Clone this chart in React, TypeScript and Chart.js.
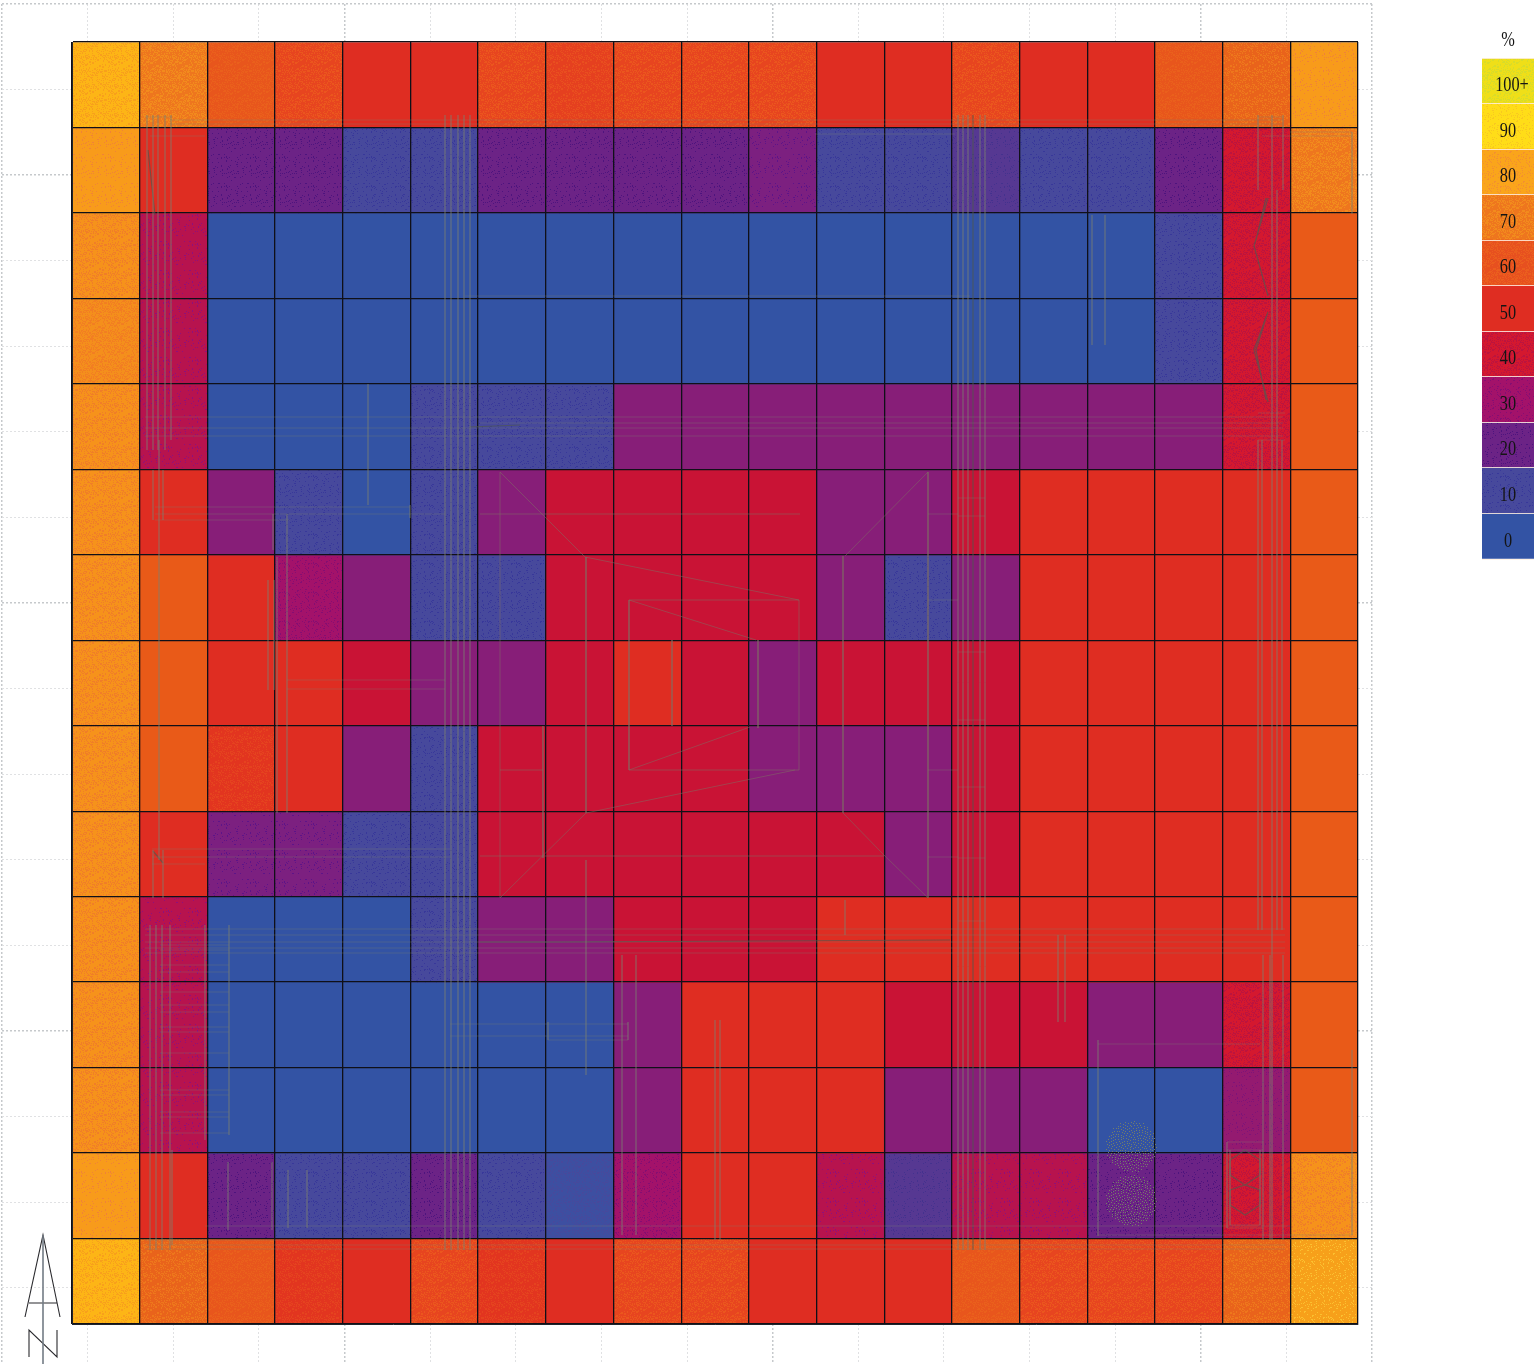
import React, { useEffect, useRef } from "react";
import { Chart, registerables } from "chart.js";

Chart.register(...registerables);

// ---------- data: occupancy-like percentage per plan cell, row by row ----------
const columnLabels = ["A","B","C","D","E","F","G","H","I","J","K","L","M","N","O","P","Q","R","S"];
const row00 = [84,66,53,50,46,46,50,49,50,50,50,46,46,50,46,46,53,60,76];
const row01 = [76,46,16,16,8,8,16,16,16,16,19,8,8,12,8,8,16,42,66];
const row02 = [72,34,0,0,0,0,0,0,0,0,0,0,0,0,0,0,8,42,54];
const row03 = [70,34,0,0,0,0,0,0,0,0,0,0,0,0,0,0,8,42,54];
const row04 = [72,34,0,0,0,8,8,8,22,22,22,22,22,22,22,22,22,42,54];
const row05 = [72,46,22,8,0,8,22,38,38,38,38,22,22,38,46,46,46,46,54];
const row06 = [72,54,46,28,22,8,8,38,38,38,38,22,8,22,46,46,46,46,54];
const row07 = [72,54,46,46,38,22,22,38,46,38,22,38,38,38,46,46,46,46,54];
const row08 = [72,54,47,46,22,8,38,38,38,38,22,22,22,38,46,46,46,46,54];
const row09 = [72,46,19,19,8,8,38,38,38,38,38,38,22,38,46,46,46,46,54];
const row10 = [72,34,0,0,0,8,22,22,38,38,38,46,46,46,46,46,46,46,54];
const row11 = [72,34,0,0,0,0,0,0,22,46,46,46,38,38,38,22,22,42,54];
const row12 = [72,34,0,0,0,0,0,0,22,46,46,46,22,22,22,0,0,25,54];
const row13 = [76,46,16,8,8,16,8,4,28,46,46,34,12,34,34,16,16,42,72];
const row14 = [84,60,53,47,46,50,47,46,50,50,46,46,46,53,50,50,50,60,80];
const rows = [row00,row01,row02,row03,row04,row05,row06,row07,row08,row09,row10,row11,row12,row13,row14];

// colour key
const legendLabels = ["0","10","20","30","40","50","60","70","80","90","100+"];
const legendLevels = [0,8,16,28,42,46,51,66,77,90,100];
const legendTitle = "%";

// ---------- styles ----------
type Swatch = [string, string?, number?];
const palette: Record<number, Swatch> = {
  0: ["#3353A4"],
  4: ["#3D4FA1", "#47499C", 0.2],
  8: ["#47499C", "#38389A", 0.08],
  12: ["#563892", "#44328E", 0.07],
  16: ["#6C2386", "#4E147E", 0.07],
  19: ["#7C2080", "#5E1488", 0.05],
  22: ["#871E78"],
  25: ["#941A70", "#7E1478", 0.06],
  28: ["#A3126A", "#860E72", 0.1],
  34: ["#B7134E", "#90107A", 0.05],
  38: ["#C91335"],
  42: ["#D4182F", "#BC143E", 0.3],
  46: ["#DF2D22"],
  47: ["#E2351F", "#E5431F", 0.25],
  49: ["#E5401F", "#E94F1F", 0.25],
  50: ["#E7451F", "#EB561E", 0.3],
  51: ["#E7501F", "#EB5E1E", 0.35],
  53: ["#E8561C", "#EA601C", 0.3],
  54: ["#E95A18"],
  60: ["#E9631B", "#EE771C", 0.25],
  66: ["#EE761E", "#F28B1D", 0.35],
  70: ["#F48F1C", "#F27E22", 0.35],
  72: ["#F6921B", "#F07E28", 0.25],
  76: ["#F89B1B", "#F08238", 0.07],
  77: ["#FAA51B", "#F39030", 0.12],
  80: ["#F7A01A", "#FBC030", 0.1],
  84: ["#FDB516", "#F8A01C", 0.25],
  90: ["#FFDD18", "#F8C820", 0.12],
  100: ["#EFDF18", "#D8DC2A", 0.3],
};

// ---------- floor plan drawn over the cells, in page units ----------
const northArrowAxis = [[43, 1235], [43, 1364]];
const northArrowMarks = [
  [[25, 1317], [43, 1235], [60, 1317]],
  [[29, 1303], [57, 1303]],
  [[29, 1357], [29, 1330], [57, 1357], [57, 1330]],
];
const planHorizontalFaint = [
  [120,170,1283],[124,170,1283],[117,145,172],[117,1258,1283],[136,150,205],[136,1262,1352],[132,1290,1352],[134,815,955],[296,465,970],
  [417,145,1283],[423,480,1283],[428,145,1283],[436,145,1283],[413,1258,1285],[440,1258,1285],
  [929,145,1285],[935,145,1285],[942,145,1285],[948,145,1285],[953,145,1285],
  [1226,205,1290],[1235,1098,1352],[1245,145,1285],[1249,145,1285],[1240,145,300],
  [507,155,410],[514,155,445],[520,155,290],[680,287,445],[689,287,445],
  [849,152,450],[857,152,450],[864,152,205],
  [1024,450,628],[1036,450,628],[1040,548,628],[1044,1098,1260],
  [945,160,229],[950,160,229],[965,160,229],[972,160,229],[992,160,229],[1005,160,229],[1012,160,229],
  [1027,160,229],[1032,160,229],[1053,160,229],[1090,160,229],[1095,160,229],[1112,160,229],[1117,160,229],[1133,160,229],
  [1142,1227,1263],[1150,1227,1263],[1225,1230,1260],[1228,1227,1263],
  [498,958,985],[516,958,985],[652,958,985],[720,958,985],[787,958,985],[858,958,985],[921,958,985],
  [514,928,958],[600,928,958],[770,928,958],[857,928,958],
];
const planVerticalFaint = [
  [147,115,450],[153,115,450],[158,115,450],[165,115,450],[171,115,440],[159,440,860],[153,470,520],[163,470,520],[153,850,898],[163,850,898],
  [150,925,1250],[156,925,1250],[162,925,1250],[170,925,1250],[172,1150,1245],[205,925,1140],[229,925,1135],
  [445,115,1250],[451,115,1250],[458,115,1250],[464,115,1250],[470,115,1250],
  [958,115,1250],[963,115,1250],[968,115,1250],[980,115,1250],[985,115,1250],
  [1258,115,190],[1262,440,930],[1258,440,930],[1272,115,1240],[1277,190,930],[1282,440,930],[1283,115,190],[1263,955,1240],[1270,955,1240],[1283,955,1240],
  [1352,132,214],[1352,1050,1235],[1092,215,345],[1105,215,345],
  [268,580,690],[274,580,690],[277,557,813],[287,514,813],[273,514,550],[368,384,505],[410,505,518],
  [228,1162,1230],[272,1162,1230],[288,1170,1228],[307,1170,1228],
  [548,1022,1040],[628,1022,1040],[622,955,1235],[636,955,1235],[586,860,1075],[1098,1040,1236],
  [1058,935,1022],[1065,935,1022],[845,900,935],[1227,1142,1228],[1230,1150,1225],[1260,1150,1225],[715,1020,1240],[720,1020,1240],
];
const planCentreLines = [
  [[500,472],[585,557],[799,600],[629,600],[756,640]],
  [[629,600],[629,770],[799,770],[799,600]],
  [[629,770],[750,727]],
  [[795,770],[586,813],[500,898],[500,472]],
  [[586,557],[586,813]],
  [[543,726],[543,858]],
  [[480,514],[800,514]],
  [[480,856],[884,856]],
  [[500,770],[543,770]],
  [[928,472],[845,556]],
  [[928,472],[928,898]],
  [[843,556],[843,813],[884,855],[928,898]],
  [[758,640],[758,728]],
  [[672,640],[672,726]],
];
const planStrongLines = [
  [[1268,198],[1254,246],[1268,296]],
  [[1266,198],[1256,240]],
  [[1268,312],[1254,350],[1268,402]],
  [[1266,318],[1256,350],[1266,400]],
  [[973,115],[973,1250]],
  [[148,150],[155,215]],
  [[153,851],[163,863]],
  [[470,427],[520,425]],
  [[480,942],[560,942]],
  [[560,942],[950,940]],
  [[1230,1160],[1245,1150],[1260,1160],[1260,1175],[1245,1185],[1230,1175],[1230,1160]],
  [[1230,1190],[1245,1185],[1260,1190],[1260,1205],[1245,1215],[1230,1205],[1230,1190]],
];
const treeX = [1131, 1131];
const treeY = [1146, 1200];

// ---------- helpers ----------
function swatchFill(level: number): string | CanvasPattern {
  const [base, dot, density] = palette[level];
  if (!dot) return base;
  const tile = document.createElement("canvas");
  tile.width = tile.height = 29;
  const c = tile.getContext("2d")!;
  c.fillStyle = base;
  c.fillRect(0, 0, 29, 29);
  c.fillStyle = dot;
  for (let x = 0; x < 29; x++) {
    for (let y = 0; y < 29; y++) {
      const h = (x * x * 7 + y * y * 13 + x * y * 5 + x * 3 + y * 11) % 53;
      if (h / 53 < (density as number)) c.fillRect(x, y, 1, 1);
    }
  }
  return c.createPattern(tile, "repeat") as CanvasPattern;
}

function treeSprite(): HTMLCanvasElement {
  const s = document.createElement("canvas");
  s.width = s.height = 54;
  const c = s.getContext("2d")!;
  c.fillStyle = "rgba(118,128,104,0.95)";
  for (let i = 0; i < 300; i++) {
    const r = 25.5 * Math.sqrt(i / 300);
    const t = i * 2.39996;
    c.fillRect(Math.round(27 + r * Math.cos(t)), Math.round(27 + r * Math.sin(t)), 1, 1);
  }
  return s;
}

const BREAK = { x: NaN, y: NaN };
function polyPoints(lines: number[][][]) {
  const out: { x: number; y: number }[] = [];
  lines.forEach((l) => {
    l.forEach(([x, y]) => out.push({ x, y }));
    out.push(BREAK);
  });
  return out;
}
const horiz = (l: number[][]) => l.map(([y, a, b]) => [[a, y], [b, y]]);
const vert = (l: number[][]) => l.map(([x, a, b]) => [[x, a], [x, b]]);

const absolute: React.CSSProperties = { position: "absolute", display: "block" };
const PAGE_W = 1535;
const PAGE_H = 1364;

export default function App() {
  const bgRef = useRef<HTMLCanvasElement>(null);
  const heatRef = useRef<HTMLCanvasElement>(null);
  const planRef = useRef<HTMLCanvasElement>(null);
  const keyRef = useRef<HTMLCanvasElement>(null);

  useEffect(() => {
    const fills: Record<number, string | CanvasPattern> = {};
    Object.keys(palette).forEach((k) => (fills[+k] = swatchFill(+k)));

    const isMajorX = (v: number) => v === 0 || v === 16 || (v + 1) % 5 === 0;
    const isMajorY = (v: number) => v === 0 || (v + 3) % 5 === 0;
    const background = new Chart(bgRef.current!, {
      type: "scatter",
      data: { datasets: [{ data: [] }] },
      options: {
        animation: false, responsive: false, devicePixelRatio: 1,
        layout: { autoPadding: false, padding: { left: 2, top: 4, right: PAGE_W - 1372, bottom: 0 } },
        plugins: { legend: { display: false }, tooltip: { enabled: false } },
        scales: {
          x: {
            type: "linear", min: 0, max: 16,
            ticks: { display: false, stepSize: 1 },
            border: { display: false, dash: [2, 2] },
            grid: {
              drawTicks: false,
              color: (c: any) => (isMajorX(c.tick.value) ? "#c6c9cc" : "#e0e1e3"),
              lineWidth: (c: any) => (isMajorX(c.tick.value) ? 1.5 : 1),
            },
          },
          y: {
            type: "linear", min: 0, max: 15.89, reverse: true,
            ticks: { display: false, stepSize: 1, includeBounds: false },
            border: { display: false, dash: [2, 2] },
            grid: {
              drawTicks: false,
              color: (c: any) => (isMajorY(c.tick.value) ? "#c6c9cc" : "#e0e1e3"),
              lineWidth: (c: any) => (isMajorY(c.tick.value) ? 1.5 : 1),
            },
          },
        },
      },
    } as any);

    const heat = new Chart(heatRef.current!, {
      type: "bar",
      data: {
        labels: columnLabels,
        datasets: rows.map((row, r) => ({
          label: `row ${r + 1}`,
          data: row.map(() => [r, r + 1]),
          backgroundColor: row.map((v) => fills[v]),
          borderWidth: 0,
          barPercentage: 1,
          categoryPercentage: 1,
          grouped: false,
        })),
      },
      options: {
        animation: false, responsive: false, devicePixelRatio: 1,
        layout: { autoPadding: false, padding: { left: 72, top: 42, right: PAGE_W - 1358, bottom: PAGE_H - 1324 } },
        plugins: { legend: { display: false }, tooltip: { enabled: false } },
        scales: {
          x: {
            type: "category",
            ticks: { display: false },
            border: { display: true, color: "#20242c", width: 1, z: 2 },
            grid: { z: 1, color: "#101018", lineWidth: 1.3, drawTicks: false, offset: true },
          },
          y: {
            type: "linear", min: 0, max: 15, reverse: true,
            ticks: { display: false, stepSize: 1 },
            border: { display: true, color: "#20242c", width: 1, z: 2 },
            grid: { z: 1, color: "#101018", lineWidth: 1.3, drawTicks: false },
          },
        },
      },
    } as any);

    const lineStyle = { type: "scatter", showLine: true, pointRadius: 0, spanGaps: false, fill: false };
    const plan = new Chart(planRef.current!, {
      type: "scatter",
      data: {
        datasets: [
          { ...lineStyle, data: polyPoints([...horiz(planHorizontalFaint), ...vert(planVerticalFaint)]), borderColor: "rgba(128,130,112,0.32)", borderWidth: 1 },
          { ...lineStyle, data: polyPoints(planCentreLines), borderColor: "rgba(128,112,100,0.5)", borderWidth: 1 },
          { ...lineStyle, data: polyPoints(planStrongLines), borderColor: "rgba(80,90,80,0.7)", borderWidth: 1.2 },
          { ...lineStyle, data: polyPoints([northArrowAxis]), borderColor: "#737c85", borderWidth: 1.6 },
          { ...lineStyle, data: polyPoints(northArrowMarks), borderColor: "#2a2a2e", borderWidth: 1.1 },
          { type: "scatter", data: treeX.map((x, i) => ({ x, y: treeY[i] })), pointStyle: treeSprite(), pointRadius: 27 },
        ],
      },
      options: {
        animation: false, responsive: false, devicePixelRatio: 1,
        layout: { autoPadding: false, padding: 0 },
        plugins: { legend: { display: false }, tooltip: { enabled: false } },
        scales: {
          x: { type: "linear", display: false, min: 0, max: PAGE_W },
          y: { type: "linear", display: false, min: 0, max: PAGE_H, reverse: true },
        },
      },
    } as any);

    const keyText = {
      id: "keyText",
      afterDraw(chart: any) {
        const c = chart.ctx as CanvasRenderingContext2D;
        const y = chart.scales.y;
        const cx = (chart.chartArea.left + chart.chartArea.right) / 2;
        const put = (text: string, px: number, py: number) => {
          c.save();
          c.translate(px, py);
          c.scale(0.74, 1);
          c.font = '22px "Liberation Serif"';
          c.textAlign = "center";
          c.textBaseline = "middle";
          c.fillStyle = "#141414";
          c.fillText(text, 0, 0);
          c.restore();
        };
        legendLabels.forEach((t, i) => {
          put(t, cx + (t.length > 3 ? 4 : 0), y.getPixelForValue(i + 0.5) + 4.5);
        });
        put(legendTitle, cx, 40);
      },
    };
    const key = new Chart(keyRef.current!, {
      type: "bar",
      data: {
        labels: [legendTitle],
        datasets: legendLevels.map((lvl, i) => ({
          data: [[i, i + 1]],
          backgroundColor: fills[lvl],
          borderWidth: 0,
          barPercentage: 1,
          categoryPercentage: 1,
          grouped: false,
        })),
      },
      options: {
        animation: false, responsive: false, devicePixelRatio: 1,
        layout: { autoPadding: false, padding: { left: 0, top: 58, right: 1, bottom: 1 } },
        plugins: { legend: { display: false }, tooltip: { enabled: false } },
        scales: {
          x: { type: "category", display: false },
          y: {
            type: "linear", min: 0, max: 11,
            ticks: { display: false, stepSize: 1 },
            border: { display: false },
            grid: { z: 1, color: "rgba(255,238,225,0.85)", lineWidth: 1, drawTicks: false },
          },
        },
      },
      plugins: [keyText],
    } as any);

    return () => {
      background.destroy();
      heat.destroy();
      plan.destroy();
      key.destroy();
    };
  }, []);

  return (
    <div style={{ position: "absolute", left: 0, top: 0, width: PAGE_W, height: PAGE_H, overflow: "hidden", background: "#fff" }}>
      <canvas ref={bgRef} width={PAGE_W} height={PAGE_H} style={{ ...absolute, left: 0, top: 0 }} />
      <canvas ref={heatRef} width={PAGE_W} height={PAGE_H} style={{ ...absolute, left: 0, top: 0 }} />
      <canvas ref={planRef} width={PAGE_W} height={PAGE_H} style={{ ...absolute, left: 0, top: 0 }} />
      <canvas ref={keyRef} width={53} height={560} style={{ ...absolute, left: 1482, top: 0 }} />
    </div>
  );
}
